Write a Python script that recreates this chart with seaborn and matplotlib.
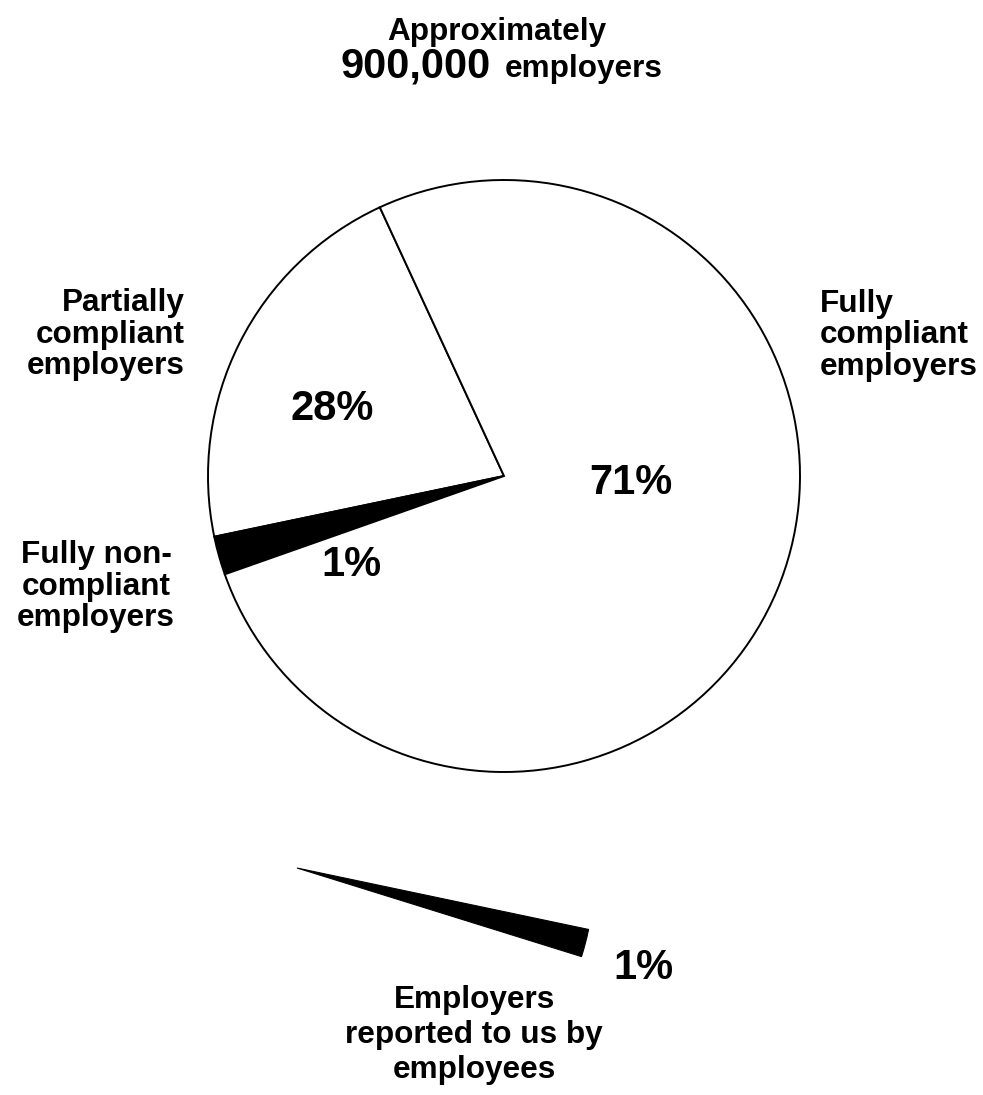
import matplotlib
matplotlib.use("Agg")
import matplotlib.pyplot as plt
import seaborn as sns

# ---------------- data ----------------
W, H = 983, 1095
main_categories = ["Partially compliant employers",
                   "Fully non-compliant employers",
                   "Fully compliant employers"]
main_shares = [21.4, 2.1, 76.5]          # drawn share of the circle
main_pct_labels = ["28%", "1%", "71%"]  # printed percentages
main_colors = ["white", "black", "white"]

reported_category = "Employers\nreported to us by\nemployees"
reported_share = [1.5, 98.5]             # visible wedge vs. invisible remainder
reported_pct_label = "1%"

title_top = "Approximately"
title_number = "900,000"
title_unit = "employers"

side_labels = ["Partially\ncompliant\nemployers",
               "Fully non-\ncompliant\nemployers",
               "Fully\ncompliant\nemployers"]

# ---------------- style ----------------
sns.set_theme(style="white")
plt.rcParams["font.family"] = ["Liberation Sans", "DejaVu Sans"]
plt.rcParams["font.weight"] = "bold"
plt.rcParams["text.color"] = "black"

fig = plt.figure(figsize=(W / 100, H / 100), dpi=100)
fig.patch.set_facecolor("white")
ax = fig.add_axes([0, 0, 1, 1])


def Y(y):
    return H - y


LAB = 22.7
BIG = 30
TXT = dict(fontweight="bold", color="black")

# main pie
ax.pie(main_shares, colors=main_colors, startangle=114.8, counterclock=True,
       center=(504, Y(476)), radius=296,
       wedgeprops=dict(edgecolor="black", linewidth=1.4))

# detached wedge for employers reported by employees
wedges, _ = ax.pie(reported_share, colors=["black", "white"], startangle=-17.3,
                   counterclock=True, center=(297, Y(868)), radius=298,
                   wedgeprops=dict(edgecolor="black", linewidth=0.8))
wedges[1].set_visible(False)

ax.set_xlim(0, W)
ax.set_ylim(0, H)
ax.set_aspect("equal")
ax.axis("off")

# percentage labels
pct_pos = [(332, 409), (351, 565), (631, 483)]
for lab, (x, y) in zip(main_pct_labels, pct_pos):
    ax.text(x, Y(y), lab, fontsize=BIG, ha="center", va="center", **TXT)
ax.text(643, Y(968), reported_pct_label, fontsize=BIG, ha="center", va="center", **TXT)

# title
ax.text(497, Y(40), title_top, fontsize=LAB, ha="center", va="baseline", **TXT)
ax.text(491, Y(77), title_number, fontsize=BIG, ha="right", va="baseline", **TXT)
ax.text(663, Y(77), title_unit, fontsize=LAB, ha="right", va="baseline", **TXT)


def multiline(text, x, y0, ha, step=31.5):
    for i, line in enumerate(text.split("\n")):
        ax.text(x, Y(y0 + i * step), line, fontsize=LAB, ha=ha, va="center", **TXT)


multiline(side_labels[0], 185, 303, "right")
multiline(side_labels[1], 96, 555, "center")
multiline(side_labels[2], 820, 304, "left")
multiline(reported_category, 474, 1000, "center", step=35)

fig.savefig("out.png", dpi=100, facecolor="white")
